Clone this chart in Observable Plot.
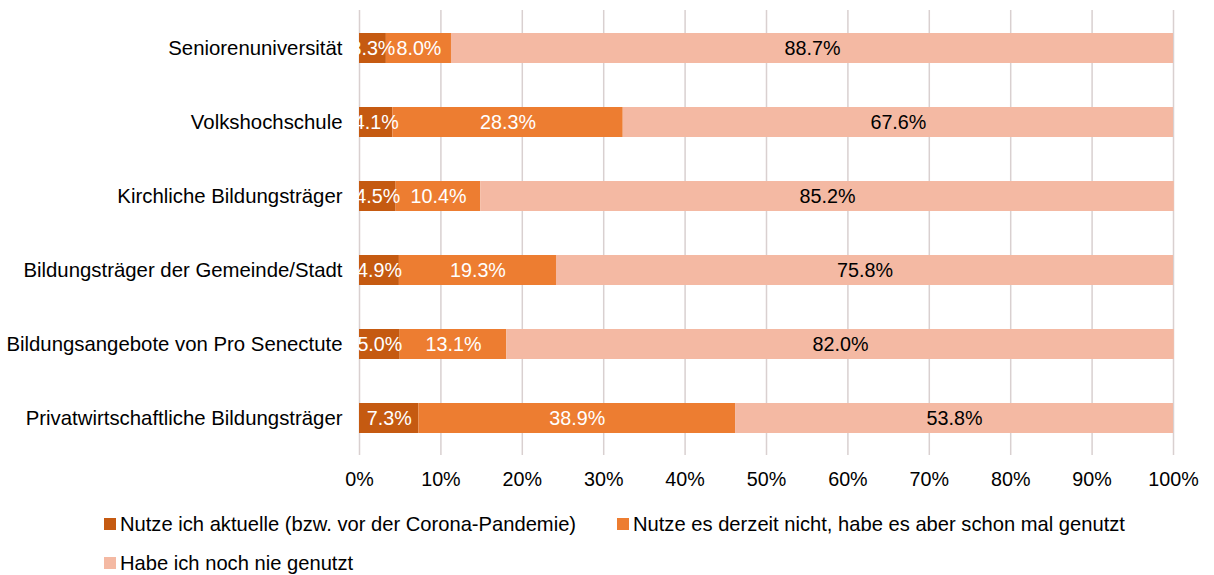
<!DOCTYPE html>
<html>
<head>
<meta charset="utf-8">
<script src="https://cdn.jsdelivr.net/npm/d3@7"></script>
<script src="https://cdn.jsdelivr.net/npm/@observablehq/plot@0.6"></script>
<style>
  html, body { margin: 0; padding: 0; background: #fff; }
  body { width: 1214px; height: 575px; overflow: hidden; font-family: "Liberation Sans", Arial, sans-serif; }
  #chart svg { display: block; }
  #legend { position: relative; height: 75px; font-size: 21px; line-height: 24px; color: #000; }
  .item { position: absolute; display: flex; align-items: center; white-space: nowrap; }
  .sw { width: 12px; height: 12px; margin-right: 4px; flex: none; }
  .lt { display: inline-block; transform: scaleX(0.96); transform-origin: left center; }
</style>
</head>
<body>
<div id="chart"></div>
<div id="legend"></div>
<script>
const categories = [
  "Seniorenuniversität",
  "Volkshochschule",
  "Kirchliche Bildungsträger",
  "Bildungsträger der Gemeinde/Stadt",
  "Bildungsangebote von Pro Senectute",
  "Privatwirtschaftliche Bildungsträger"
];
const series = [
  "Nutze ich aktuelle (bzw. vor der Corona-Pandemie)",
  "Nutze es derzeit nicht, habe es aber schon mal genutzt",
  "Habe ich noch nie genutzt"
];
const current = [3.3, 4.1, 4.5, 4.9, 5.0, 7.3];
const former = [8.0, 28.3, 10.4, 19.3, 13.1, 38.9];
const never = [88.7, 67.6, 85.2, 75.8, 82.0, 53.8];
const xTicks = [0, 10, 20, 30, 40, 50, 60, 70, 80, 90, 100];
const colors = ["#C55A11", "#ED7D31", "#F4B9A3"];
const textColors = ["#ffffff", "#ffffff", "#000000"];

const values = [current, former, never];
const data = [];
categories.forEach((c, i) => {
  series.forEach((s, j) => {
    data.push({category: c, series: s, si: j, value: values[j][i]});
  });
});

const fontFamily = '"Liberation Sans", Arial, sans-serif';

const chart = Plot.plot({
  width: 1214,
  height: 500,
  marginLeft: 359,
  marginRight: 41,
  marginTop: 10,
  marginBottom: 45,
  style: {fontSize: "21px", fontFamily, color: "#000", background: "#fff"},
  x: {domain: [0, 100], ticks: xTicks, tickFormat: d => d + "%", label: null},
  y: {domain: categories, paddingInner: 0.6, paddingOuter: 0.3, label: null},
  color: {domain: series, range: colors},
  marks: [
    Plot.ruleX(xTicks, {stroke: "#D9D0D0", strokeWidth: 1.5}),
    Plot.barX(data, Plot.stackX({x: "value", y: "category", fill: "series", order: series})),
    Plot.text(data, Plot.stackX({
      x: "value", y: "category", order: series,
      text: d => d.value.toFixed(1) + "%",
      fill: d => textColors[d.si],
      fontSize: 21,
      className: "vals"
    })),
    Plot.axisX({ticks: xTicks, tickFormat: d => d + "%", tickSize: 0, tickPadding: 16, label: null, fontSize: 21, className: "xax"}),
    Plot.axisY({tickSize: 0, tickPadding: 17, label: null, fontSize: 21, className: "yax"})
  ]
});
// condense texts horizontally around their anchor (narrow sans look)
function squeezeTexts(sel, s) {
  chart.querySelectorAll(sel).forEach(t => {
    const x = parseFloat(t.getAttribute("x") || 0);
    const y = parseFloat(t.getAttribute("y") || 0);
    const tr = t.getAttribute("transform") || "";
    t.setAttribute("transform", `${tr} translate(${x},${y}) scale(${s},1) translate(${-x},${-y})`);
  });
}
squeezeTexts(".vals text, .xax text", 0.94);
squeezeTexts(".yax text", 0.97);
document.getElementById("chart").appendChild(chart);

const legend = document.getElementById("legend");
const pos = [[104, 12], [617, 12], [104, 51]];
series.forEach((s, j) => {
  const it = document.createElement("div");
  it.className = "item";
  it.style.left = pos[j][0] + "px";
  it.style.top = pos[j][1] + "px";
  const sw = document.createElement("span");
  sw.className = "sw";
  sw.style.background = colors[j];
  const t = document.createElement("span");
  t.className = "lt";
  t.textContent = s;
  it.appendChild(sw);
  it.appendChild(t);
  legend.appendChild(it);
});
</script>
</body>
</html>
